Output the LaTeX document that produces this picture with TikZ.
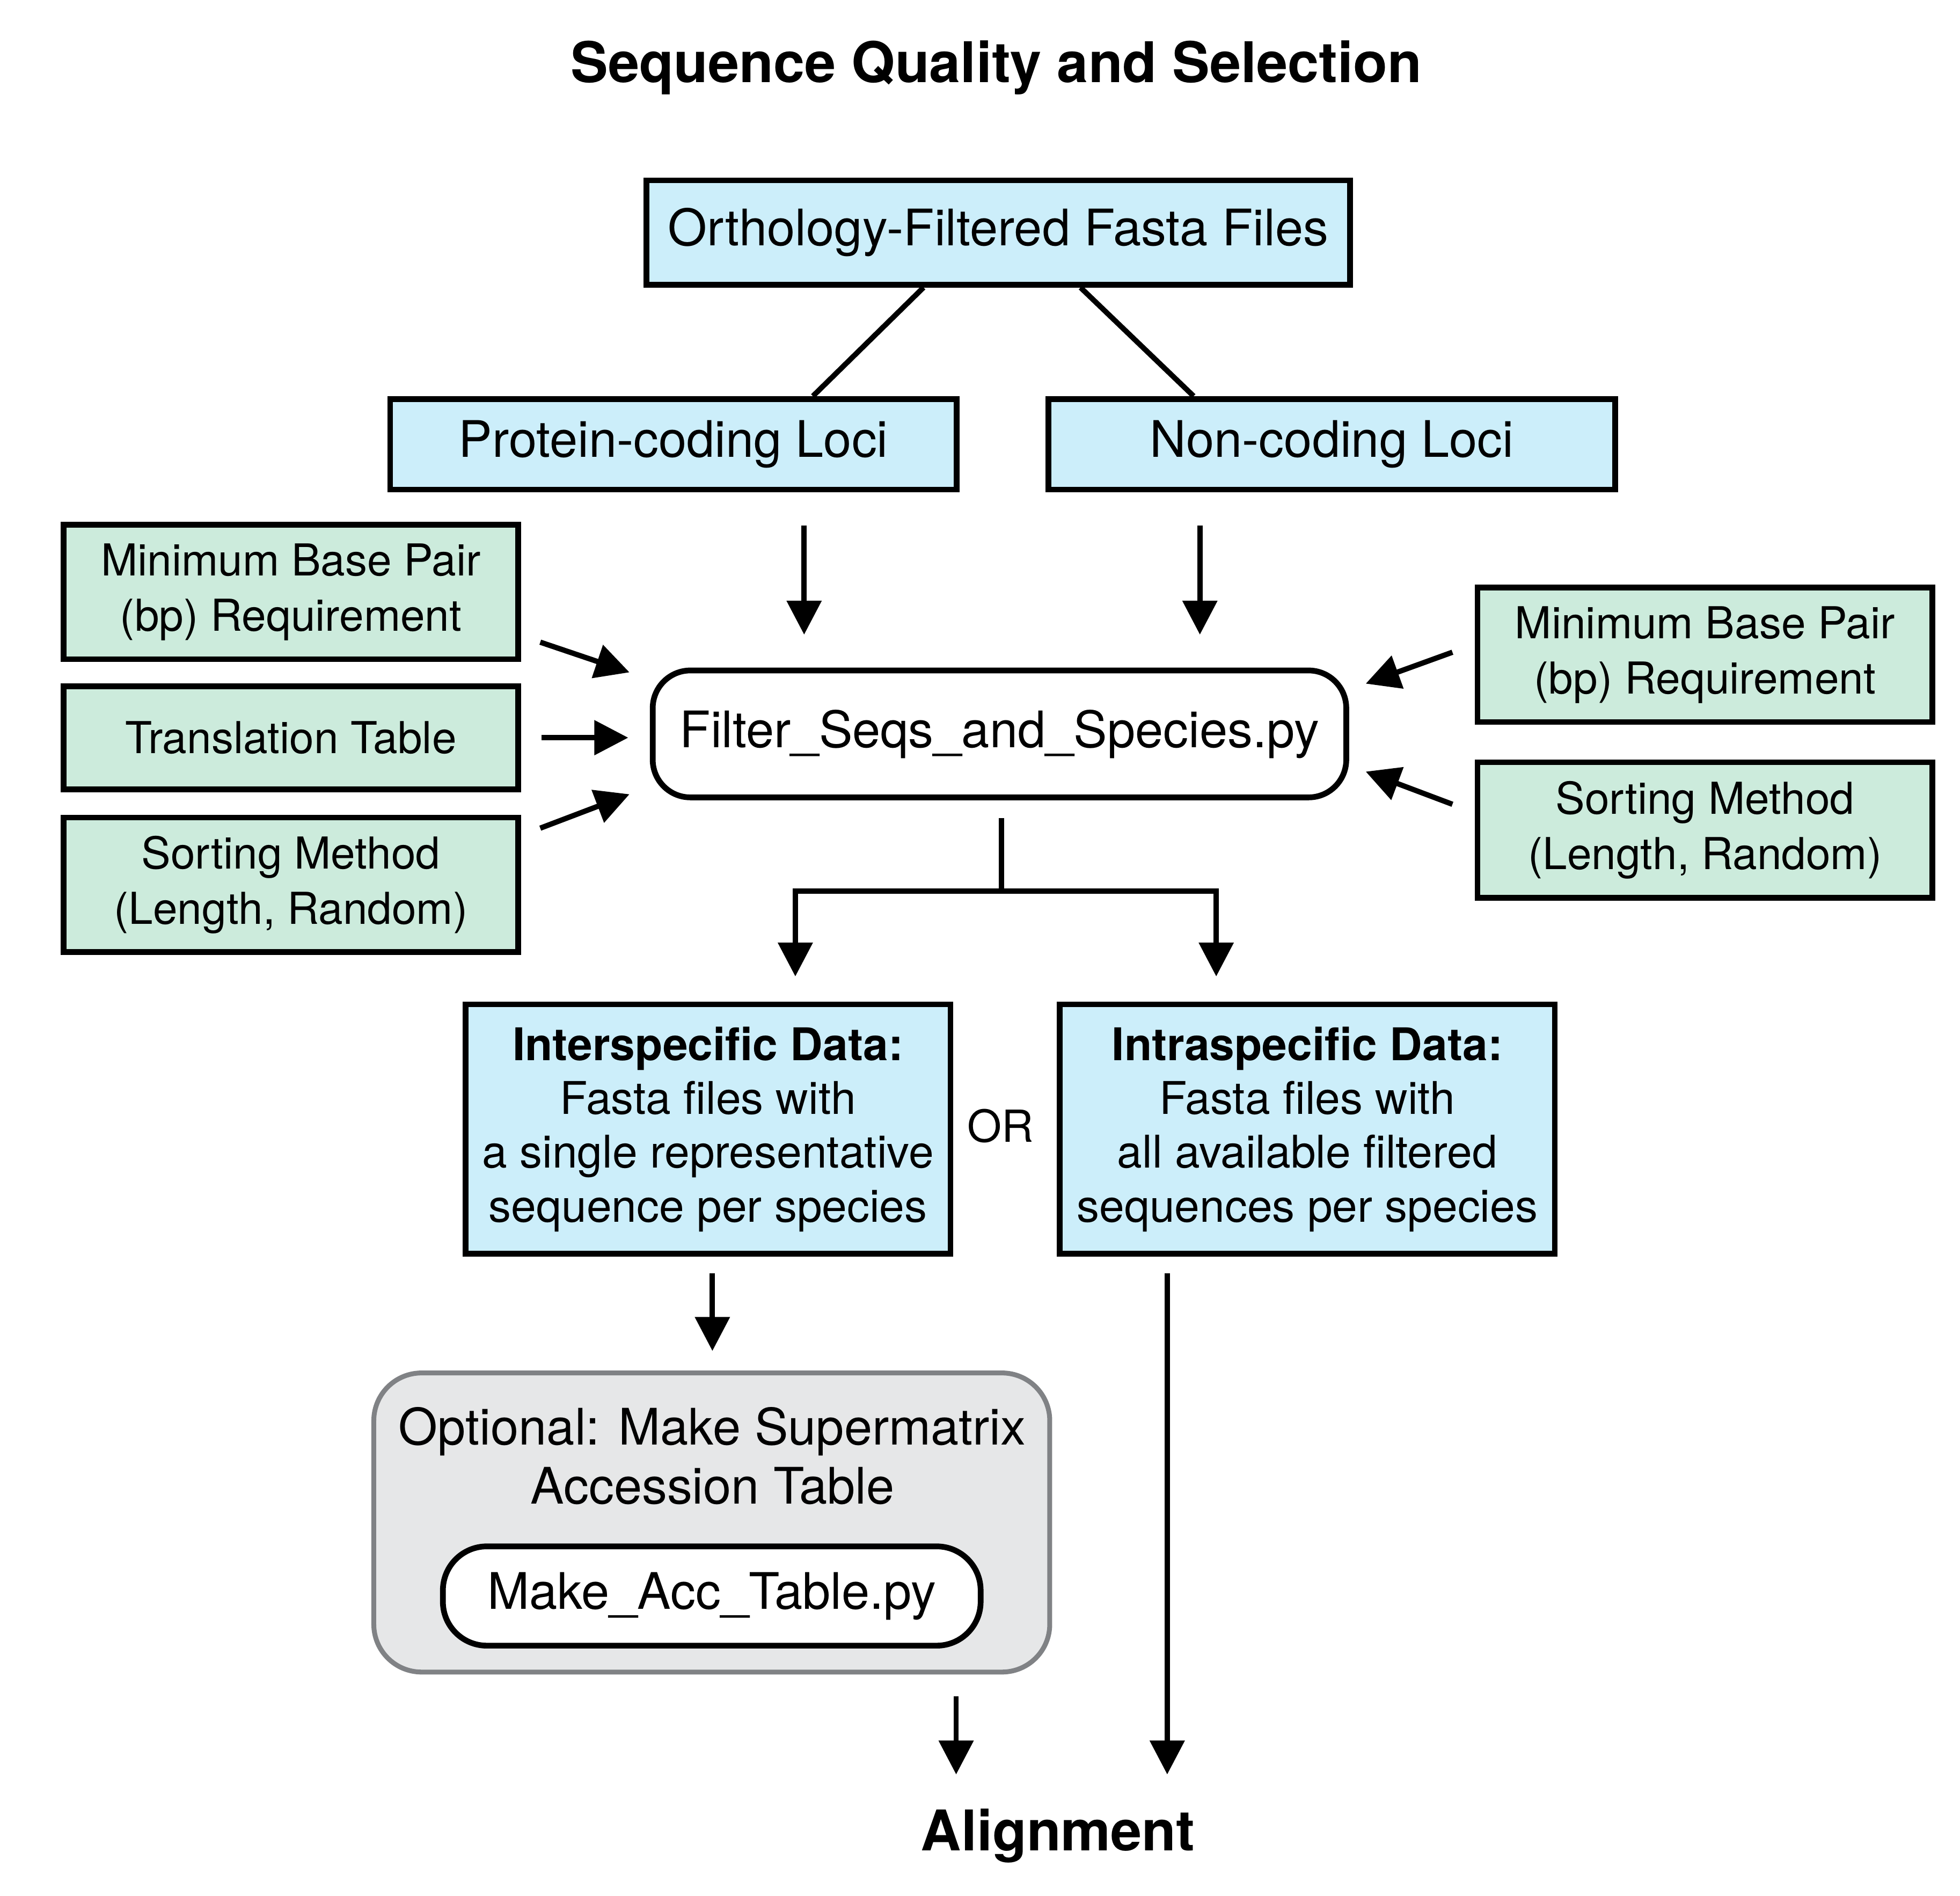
\documentclass[tikz,border=0pt]{standalone}
\usepackage{fontspec}
\setmainfont{TeX Gyre Heros}
\usetikzlibrary{arrows.meta,calc}
\definecolor{boxblue}{RGB}{204,238,250}
\definecolor{boxgreen}{RGB}{204,235,220}
\definecolor{optgray}{RGB}{230,231,232}
\definecolor{optline}{RGB}{128,130,133}
\tikzset{blu/.style={rectangle,draw,fill=boxblue,line width=1.3pt,inner sep=0pt,align=center,font=\fontsize{11.4}{13.4}\selectfont}}
\tikzset{grn/.style={rectangle,draw,fill=boxgreen,line width=1.3pt,inner sep=0pt,minimum width=3.62cm,align=center,font=\fontsize{9.96}{12.5}\selectfont}}
\tikzset{script/.style={rectangle,rounded corners=0.3cm,draw,fill=white,line width=1.3pt,inner sep=0pt,font=\fontsize{11.4}{13.4}\selectfont}}
\tikzset{data/.style={blu,minimum height=1.985cm,font=\fontsize{10.2}{12.2}\selectfont}}

\begin{document}
\begin{tikzpicture}[>={Triangle[length=0.27cm,width=0.27cm]},line width=1.2pt]
    \useasboundingbox (0,0) rectangle (15.6,-15.083);

    \node[font=\fontsize{12.7}{15}\selectfont\bfseries] (title) at (7.93,-0.54) {Sequence Quality and Selection};

    \node[blu,minimum width=5.60cm,minimum height=0.83cm] (orth) at (7.945,-1.85) {Orthology-Filtered Fasta Files};
    \node[blu,minimum width=4.51cm,minimum height=0.72cm] (prot) at (5.36,-3.535) {Protein-coding Loci};
    \node[blu,minimum width=4.51cm,minimum height=0.72cm] (nonc) at (10.60,-3.535) {Non-coding Loci};

    \node[script,minimum width=5.52cm,minimum height=1.01cm] (filt) at (7.955,-5.84) {Filter\_Seqs\_and\_Species.py};

    % parameters, left
    \node[grn,minimum height=1.07cm] (bpl) at (2.315,-4.71) {Minimum Base Pair\\(bp) Requirement};
    \node[grn,minimum height=0.82cm] (trans) at (2.315,-5.87) {Translation Table};
    \node[grn,minimum height=1.07cm] (sortl) at (2.315,-7.04) {Sorting Method\\(Length, Random)};
    % parameters, right
    \node[grn,minimum height=1.07cm] (bpr) at (13.57,-5.21) {Minimum Base Pair\\(bp) Requirement};
    \node[grn,minimum height=1.08cm] (sortr) at (13.57,-6.605) {Sorting Method\\(Length, Random)};

    \node[data,minimum width=3.86cm] (inter) at (5.635,-8.985) {\textbf{Interspecific Data:}\\Fasta files with\\a single representative\\sequence per species};
    \node[data,minimum width=3.94cm] (intra) at (10.405,-8.985) {\textbf{Intraspecific Data:}\\Fasta files with\\all available filtered\\sequences per species};
    \node[font=\fontsize{10}{12}\selectfont] (or) at (7.965,-8.96) {OR};

    \node[rectangle,rounded corners=0.38cm,draw=optline,fill=optgray,line width=1.1pt,minimum width=5.38cm,minimum height=2.38cm] (opt) at (5.665,-12.115) {};
    \node[align=center,font=\fontsize{11.4}{13.4}\selectfont] (opttxt) at (5.67,-11.585) {Optional: Make Supermatrix\\Accession Table};
    \node[script,rounded corners=0.35cm,minimum width=4.28cm,minimum height=0.79cm] (acc) at (5.665,-12.70) {Make\_Acc\_Table.py};

    \node[font=\fontsize{12.7}{15}\selectfont\bfseries] (align) at (8.42,-14.61) {Alignment};

    % free arrow ends
    \coordinate (p0) at (6.40,-4.18);  \coordinate (p1) at (6.40,-5.05);
    \coordinate (n0) at (9.55,-4.18);  \coordinate (n1) at (9.55,-5.05);
    \coordinate (l10) at (4.30,-5.11); \coordinate (l11) at (5.01,-5.35);
    \coordinate (l20) at (4.31,-5.87); \coordinate (l21) at (5.00,-5.87);
    \coordinate (l30) at (4.30,-6.59); \coordinate (l31) at (5.01,-6.32);
    \coordinate (r10) at (11.56,-5.19); \coordinate (r11) at (10.87,-5.44);
    \coordinate (r20) at (11.56,-6.40); \coordinate (r21) at (10.87,-6.14);
    \coordinate (s0) at (7.97,-6.51);  \coordinate (s1) at (7.97,-7.09);
    \coordinate (sl) at (6.33,-7.77);  \coordinate (sr) at (9.68,-7.77);
    \coordinate (i0) at (5.67,-10.13); \coordinate (i1) at (5.67,-10.75);
    \coordinate (o0) at (7.61,-13.50); \coordinate (o1) at (7.61,-14.12);
    \coordinate (t0) at (9.29,-10.13); \coordinate (t1) at (9.29,-14.12);

    \draw ([xshift=-0.595cm]orth.south) -- ([xshift=1.11cm]prot.north);
    \draw ([xshift=0.655cm]orth.south) -- ([xshift=-1.10cm]nonc.north);

    \draw [->] (p0) -- (p1);
    \draw [->] (n0) -- (n1);
    \draw [->] (l10) -- (l11);
    \draw [->] (l20) -- (l21);
    \draw [->] (l30) -- (l31);
    \draw [->] (r10) -- (r11);
    \draw [->] (r20) -- (r21);
    \draw [->] (s0) -- (s1) -| (sl);
    \draw [->] (s1) -| (sr);
    \draw [->] (i0) -- (i1);
    \draw [->] (o0) -- (o1);
    \draw [->] (t0) -- (t1);
\end{tikzpicture}
\end{document}
